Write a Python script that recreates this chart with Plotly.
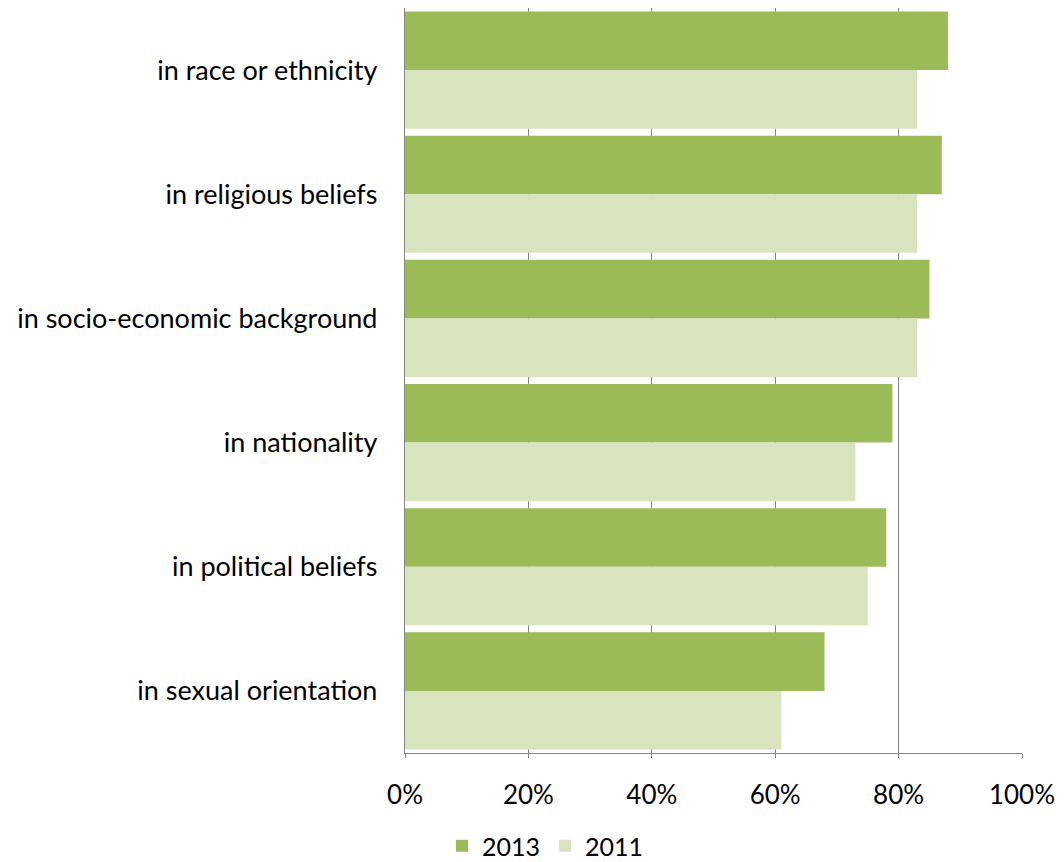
import plotly.graph_objects as go

categories = ["in race or ethnicity", "in religious beliefs", "in socio-economic background",
              "in nationality", "in political beliefs", "in sexual orientation"]
values_2013 = [0.88, 0.87, 0.85, 0.79, 0.78, 0.68]
values_2011 = [0.83, 0.83, 0.83, 0.73, 0.75, 0.61]
tick_vals = [0, 0.2, 0.4, 0.6, 0.8, 1.0]
tick_text = ["0%", "20%", "40%", "60%", "80%", "100%"]

FONT = "Lato"
GRID = "#868686"

fig = go.Figure()
fig.add_trace(go.Bar(y=categories, x=values_2013, name="2013", orientation="h",
                     marker=dict(color="#9BBB59", line=dict(width=0))))
fig.add_trace(go.Bar(y=categories, x=values_2011, name="2011", orientation="h",
                     marker=dict(color="#D7E4BD", line=dict(width=0))))

fig.update_layout(
    width=1056, height=854,
    margin=dict(l=397, r=42, t=0, b=109, autoexpand=False),
    paper_bgcolor="white", plot_bgcolor="white",
    barmode="group", bargap=0.056, bargroupgap=0,
    font=dict(family=FONT, size=27, color="#000000"),
    showlegend=True,
    legend=dict(orientation="h", x=0.06, xanchor="left", y=-0.094, yanchor="top",
                font=dict(family=FONT, size=25), itemwidth=30, traceorder="normal",
                bgcolor="rgba(0,0,0,0)", tracegroupgap=0),
    xaxis=dict(range=[0, 1], tickvals=tick_vals, ticktext=tick_text,
               showgrid=True, gridcolor=GRID, gridwidth=1.3,
               showline=True, linecolor=GRID, linewidth=1.3,
               ticks="outside", ticklen=4, tickcolor=GRID,
               ticklabelstandoff=15, zeroline=False,
               tickfont=dict(family=FONT, size=26)),
    yaxis=dict(autorange="reversed", showline=True, linecolor=GRID, linewidth=1.3,
               showgrid=False, ticks="", ticklabelstandoff=21,
               tickfont=dict(family=FONT, size=27)),
)
fig.update_layout(barcornerradius=0)
fig.write_html("out.html")
